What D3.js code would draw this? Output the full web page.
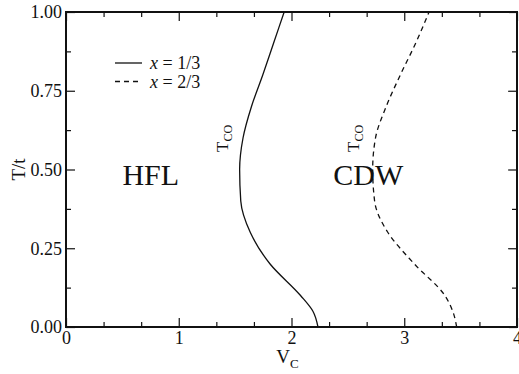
<!DOCTYPE html>
<html>
<head>
<meta charset="utf-8">
<script src="https://cdn.jsdelivr.net/npm/d3@7"></script>
<style>
body { margin: 0; background: #fff; }
svg text { font-family: "Liberation Serif", "DejaVu Serif", serif !important; fill: #111; }
</style>
</head>
<body>
<div class="chart"></div>
<script>
var W = 519, H = 374;
var margin = { top: 12, right: 2, bottom: 47, left: 66 },
	w = W - margin.left - margin.right,
	h = H - margin.top - margin.bottom;
var serif = '"Liberation Serif", "DejaVu Serif", serif';

// temperature grid (T/t) and transition line V_C for each filling
var tValues = [0, 0.05, 0.1, 0.2, 0.3, 0.4, 0.5, 0.6, 0.7, 0.8, 0.9, 1.0];
var vcOneThird = [2.235, 2.19, 2.08, 1.81, 1.635, 1.55, 1.54, 1.57, 1.645, 1.745, 1.84, 1.935];
var vcTwoThird = [3.465, 3.43, 3.36, 3.09, 2.855, 2.737, 2.72, 2.745, 2.84, 2.965, 3.10, 3.22];

var xTicks = [0, 1, 2, 3, 4],
	yTicks = [0, 0.25, 0.5, 0.75, 1.0];
var xMinor = [1/3, 2/3, 4/3, 5/3, 7/3, 8/3, 10/3, 11/3],
	yMinor = [0.125, 0.375, 0.625, 0.875];

var series = [
	{ name: "1/3", vc: vcOneThird, dash: null },
	{ name: "2/3", vc: vcTwoThird, dash: "5,4" }
];

var x = d3.scaleLinear().domain([0, 4]).range([0, w]);
var y = d3.scaleLinear().domain([0, 1]).range([h, 0]);

var svg = d3.select('.chart').append('svg')
	.attr('width', W)
	.attr('height', H)
	.attr('font-family', serif);

var g = svg.append('g')
	.attr('transform', 'translate(' + margin.left + ',' + margin.top + ')');

// axes with inward ticks on all four sides
function styleAxis(sel) {
	sel.attr('font-family', serif);
	sel.select('.domain').remove();
	sel.selectAll('line').attr('stroke', '#111').attr('stroke-width', 1.2);
	sel.selectAll('text').style('font-size', '18px').style('font-family', serif).attr('fill', '#111');
}

g.append('g').attr('transform', 'translate(0,' + h + ')')
	.call(d3.axisBottom(x).tickValues(xTicks).tickSize(-9).tickPadding(4).tickFormat(d3.format('d')))
	.call(styleAxis);
g.append('g').attr('transform', 'translate(0,' + h + ')')
	.call(d3.axisBottom(x).tickValues(xMinor).tickSize(-5).tickFormat(''))
	.call(styleAxis);
g.append('g')
	.call(d3.axisTop(x).tickValues(xTicks).tickSize(-9).tickFormat(''))
	.call(styleAxis);
g.append('g')
	.call(d3.axisTop(x).tickValues(xMinor).tickSize(-5).tickFormat(''))
	.call(styleAxis);

g.append('g')
	.call(d3.axisLeft(y).tickValues(yTicks).tickSize(-9).tickPadding(4).tickFormat(d3.format('.2f')))
	.call(styleAxis);
g.append('g')
	.call(d3.axisLeft(y).tickValues(yMinor).tickSize(-5).tickFormat(''))
	.call(styleAxis);
g.append('g').attr('transform', 'translate(' + w + ',0)')
	.call(d3.axisRight(y).tickValues(yTicks).tickSize(-9).tickFormat(''))
	.call(styleAxis);
g.append('g').attr('transform', 'translate(' + w + ',0)')
	.call(d3.axisRight(y).tickValues(yMinor).tickSize(-5).tickFormat(''))
	.call(styleAxis);

g.append('rect')
	.attr('width', w)
	.attr('height', h)
	.attr('fill', 'none')
	.attr('stroke', '#111')
	.attr('stroke-width', 2);

// the two transition lines
var line = d3.line()
	.curve(d3.curveMonotoneY)
	.x(function(d) { return x(d.v); })
	.y(function(d) { return y(d.t); });

g.selectAll('path.tco')
	.data(series)
	.enter()
	.append('path')
		.attr('class', 'tco')
		.attr('fill', 'none')
		.attr('stroke', '#111')
		.attr('stroke-width', 1.3)
		.attr('stroke-dasharray', function(d) { return d.dash; })
		.attr('d', function(d) {
			return line(tValues.map(function(t, i) { return { t: t, v: d.vc[i] }; }));
		});

// axis titles
svg.append('text')
	.attr('transform', 'translate(25,' + (margin.top + h / 2) + ') rotate(-90)')
	.attr('text-anchor', 'middle')
	.style('font-size', '19px')
	.text('T/t');

var xl = svg.append('text')
	.attr('x', margin.left + x(2) - 4)
	.attr('y', 363)
	.attr('text-anchor', 'middle')
	.style('font-size', '19px');
xl.append('tspan').text('V');
xl.append('tspan').attr('dy', 5).style('font-size', '13px').text('C');

// phase labels
g.append('text').attr('x', x(0.5)).attr('y', 173).style('font-size', '30px').text('HFL');
g.append('text').attr('x', x(2.37)).attr('y', 173).style('font-size', '30px').text('CDW');

[x(1.33), x(2.49)].forEach(function(px) {
	var t = g.append('text')
		.attr('transform', 'translate(' + (px + 12) + ',140) rotate(-90)')
		.style('font-size', '17px');
	t.append('tspan').text('T');
	t.append('tspan').attr('dy', 4).style('font-size', '12px').text('CO');
});

// legend
var legend = g.selectAll('g.leg')
	.data(series)
	.enter()
	.append('g')
		.attr('class', 'leg')
		.attr('transform', function(d, i) { return 'translate(49,' + (51 + i * 18.5) + ')'; });
legend.append('line')
	.attr('x1', 0).attr('x2', 27)
	.attr('stroke', '#111')
	.attr('stroke-width', 1.3)
	.attr('stroke-dasharray', function(d) { return d.dash; });
var lt = legend.append('text')
	.attr('x', 35)
	.attr('y', 6)
	.style('font-size', '18px');
lt.append('tspan').style('font-style', 'italic').text('x');
lt.append('tspan').text(function(d) { return ' = ' + d.name; });
</script>
</body>
</html>
